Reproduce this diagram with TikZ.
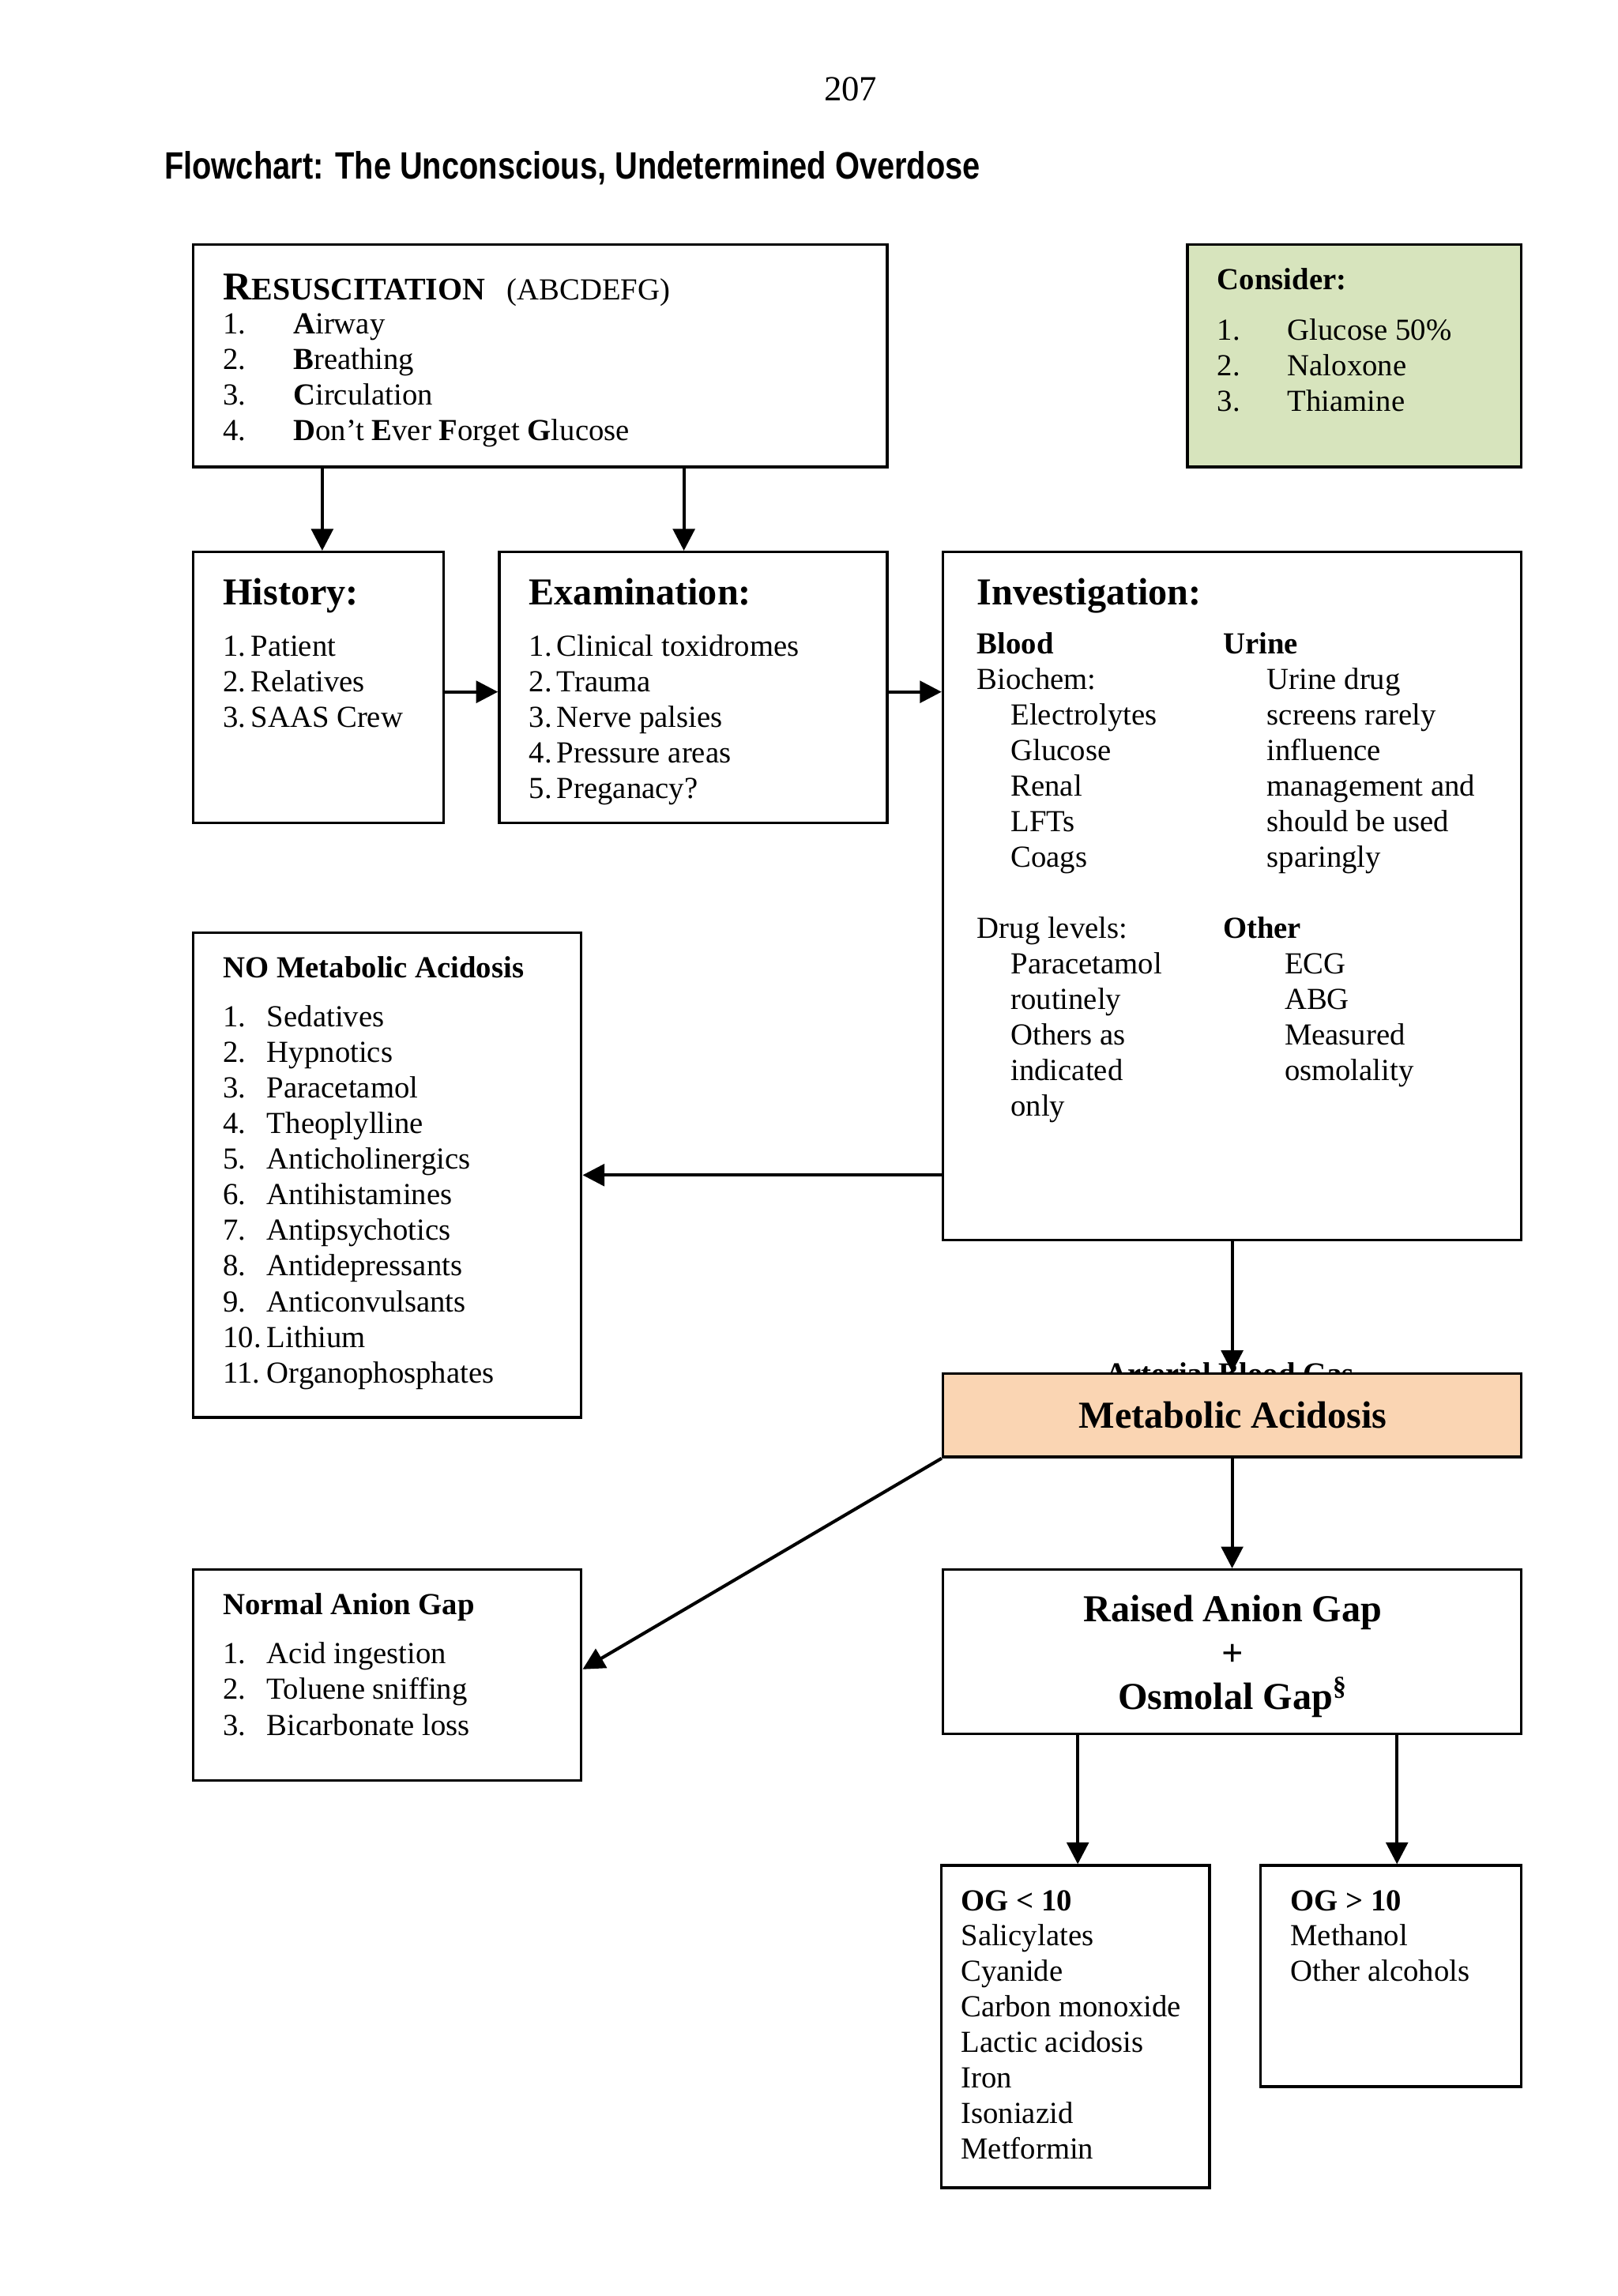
\documentclass[tikz,border=0pt]{standalone}
\usepackage{graphicx}
\usepackage{fontspec}
\setmainfont{Liberation Serif}
\newfontfamily\titlesans{Liberation Sans}
\usetikzlibrary{arrows.meta,fit,calc}
\definecolor{considergreen}{HTML}{D7E4BD}
\definecolor{acidpeach}{HTML}{FAD5B3}
\newcommand\bodysize{\fontsize{11.25}{13.1}\selectfont}
\newcommand\headsize{\fontsize{14}{16}\selectfont}
\begin{document}
\begin{tikzpicture}[x=0.53846pt,y=-0.53846pt,
  box/.style={draw, line width=1pt, inner sep=0pt},
  txt/.style={anchor=base west, inner sep=0pt, font=\bodysize},
  btxt/.style={anchor=base west, inner sep=0pt, font=\bodysize\bfseries},
  head/.style={anchor=base west, inner sep=0pt, font=\headsize\bfseries},
  ctext/.style={anchor=base, inner sep=0pt, font=\headsize\bfseries},
  arr/.style={line width=1.2pt, -{Triangle[length=8pt,width=8pt]}}]
\useasboundingbox[fill=white] (0,0) rectangle (1105,1568);

% page number and title
\node[anchor=base, inner sep=0pt, font=\fontsize{13}{15}\selectfont] (pagenum) at (581,69) {207};
\node[anchor=base west, inner sep=0pt] (title) at (112,122)
  {\resizebox{300pt}{\height}{\titlesans\bfseries\fontsize{14}{16}\selectfont Flowchart: The Unconscious, Undetermined Overdose}};

% Resuscitation
\node[box, fit={(132,167) (606,319)}] (resus) {};
\node[anchor=base west, inner sep=0pt] (resustitle) at (152,205)
  {\bfseries{\fontsize{14.5}{16}\selectfont R}{\fontsize{11.6}{13}\selectfont ESUSCITATION}\hspace{8pt}\mdseries\bodysize(ABCDEFG)};
\foreach \t [count=\i] in {{\textbf{A}irway},{\textbf{B}reathing},{\textbf{C}irculation},{\textbf{D}on’t \textbf{E}ver \textbf{F}orget \textbf{G}lucose}} {
  \node[txt] (rn\i) at (152,203.7+\i*24.3) {\i.};
  \node[txt] (rt\i) at (200,203.7+\i*24.3) {\t};
}

% Consider
\node[box, fill=considergreen, fit={(811,167) (1039,319)}] (consider) {};
\node[btxt] (considertitle) at (831,197.5) {Consider:};
\foreach \t [count=\i] in {Glucose 50\%,Naloxone,Thiamine} {
  \node[txt] (cn\i) at (831,208+\i*24.3) {\i.};
  \node[txt] (ct\i) at (879,208+\i*24.3) {\t};
}

% History
\node[box, fit={(132,377) (303,562)}] (hist) {};
\node[head] (histtitle) at (152,413) {History:};
\foreach \t [count=\i] in {Patient,Relatives,SAAS Crew} {
  \node[txt] (hn\i) at (152,424+\i*24.3) {\i.};
  \node[txt] (ht\i) at (171,424+\i*24.3) {\t};
}

% Examination
\node[box, fit={(341,377) (606,562)}] (exam) {};
\node[head] (examtitle) at (361,413) {Examination:};
\foreach \t [count=\i] in {Clinical toxidromes,Trauma,Nerve palsies,Pressure areas,Preganacy?} {
  \node[txt] (en\i) at (361,424+\i*24.3) {\i.};
  \node[txt] (et\i) at (380,424+\i*24.3) {\t};
}

% Investigation
\node[box, fit={(644,377) (1039,847)}] (inv) {};
\node[head] (invtitle) at (667,413) {Investigation:};
\node[btxt] (blood) at (667,446.5) {Blood};
\node[txt] (biochem) at (667,470.8) {Biochem:};
\foreach \t [count=\i from 3] in {Electrolytes,Glucose,Renal,LFTs,Coags} {
  \node[txt] (ba\i) at (690,422+\i*24.3) {\t};
}
\node[txt] (druglevels) at (667,641) {Drug levels:};
\foreach \t [count=\i from 10] in {Paracetamol,routinely,Others as,indicated,only} {
  \node[txt] (bd\i) at (690,422+\i*24.3) {\t};
}
\node[btxt] (urine) at (835,446.5) {Urine};
\foreach \t [count=\i from 2] in {Urine drug,screens rarely,influence,management and,should be used,sparingly} {
  \node[txt] (ua\i) at (865,422+\i*24.3) {\t};
}
\node[btxt] (other) at (835,641) {Other};
\foreach \t [count=\i from 10] in {ECG,ABG,Measured,osmolality} {
  \node[txt] (oa\i) at (877,422+\i*24.3) {\t};
}

% NO Metabolic Acidosis
\node[box, fit={(132,637) (397,968)}] (nometab) {};
\node[btxt] (nometabtitle) at (152,667.5) {NO Metabolic Acidosis};
\foreach \t [count=\i] in {Sedatives,Hypnotics,Paracetamol,Theoplylline,Anticholinergics,Antihistamines,Antipsychotics,Antidepressants,Anticonvulsants,Lithium,Organophosphates} {
  \node[txt] (nn\i) at (152,677+\i*24.3) {\i.};
  \node[txt] (nt\i) at (182,677+\i*24.3) {\t};
}

% Arterial Blood Gas label, arrow, Metabolic Acidosis box
\node[anchor=base, inner sep=0pt, font=\bodysize\bfseries] (abg) at (840,945) {Arterial Blood Gas};
\node[box, fill=acidpeach, fit={(644,938) (1039,995)}] (metab) {};
\draw[arr] (inv.south) -- (metab.north);
\node[ctext] (metabtxt) at (842,975) {Metabolic Acidosis};

% Normal Anion Gap
\node[box, fit={(132,1072) (397,1216)}] (normal) {};
\node[btxt] (normaltitle) at (152,1102.5) {Normal Anion Gap};
\foreach \t [count=\i] in {Acid ingestion,Toluene sniffing,Bicarbonate loss} {
  \node[txt] (gn\i) at (152,1112+\i*24.3) {\i.};
  \node[txt] (gt\i) at (182,1112+\i*24.3) {\t};
}

% Raised Anion Gap
\node[box, fit={(644,1072) (1039,1184)}] (raised) {};
\node[ctext] (raised1) at (842,1107.5) {Raised Anion Gap};
\node[ctext] (raised2) at (842,1137.5) {+};
\node[ctext] (raised3) at (842,1167.5) {Osmolal Gap\textsuperscript{§}};

% OG boxes
\node[box, fit={(643,1274) (826,1494)}] (ogless) {};
\node[btxt] (oglesstitle) at (656,1305) {OG < 10};
\foreach \t [count=\i] in {Salicylates,Cyanide,Carbon monoxide,Lactic acidosis,Iron,Isoniazid,Metformin} {
  \node[txt] (ol\i) at (656,1304.5+\i*24.3) {\t};
}
\node[box, fit={(861,1274) (1039,1425)}] (ogmore) {};
\node[btxt] (ogmoretitle) at (881,1305) {OG > 10};
\foreach \t [count=\i] in {Methanol,Other alcohols} {
  \node[txt] (om\i) at (881,1304.5+\i*24.3) {\t};
}

% connectors
\draw[arr] ($(resus.south west)+(89,0)$) -- ($(hist.north west)+(89,0)$);
\draw[arr] ($(resus.south west)+(336,0)$) -- ($(exam.north west)+(127,0)$);
\draw[arr] ($(hist.east)+(0,3)$) -- ($(exam.west)+(0,3)$);
\draw[arr] ($(exam.east)+(0,3)$) -- ($(inv.west |- exam.east)+(0,3)$);
\draw[arr] (inv.west |- nometab.east) -- (nometab.east);
\draw[arr] (metab.south west) -- ($(normal.east)+(0,-4)$);
\draw[arr] (metab.south) -- (raised.north);
\draw[arr] ($(raised.south west)+(93,0)$) -- ($(ogless.north west)+(94,0)$);
\draw[arr] ($(raised.south west)+(311,0)$) -- ($(ogmore.north west)+(94,0)$);
\end{tikzpicture}
\end{document}
